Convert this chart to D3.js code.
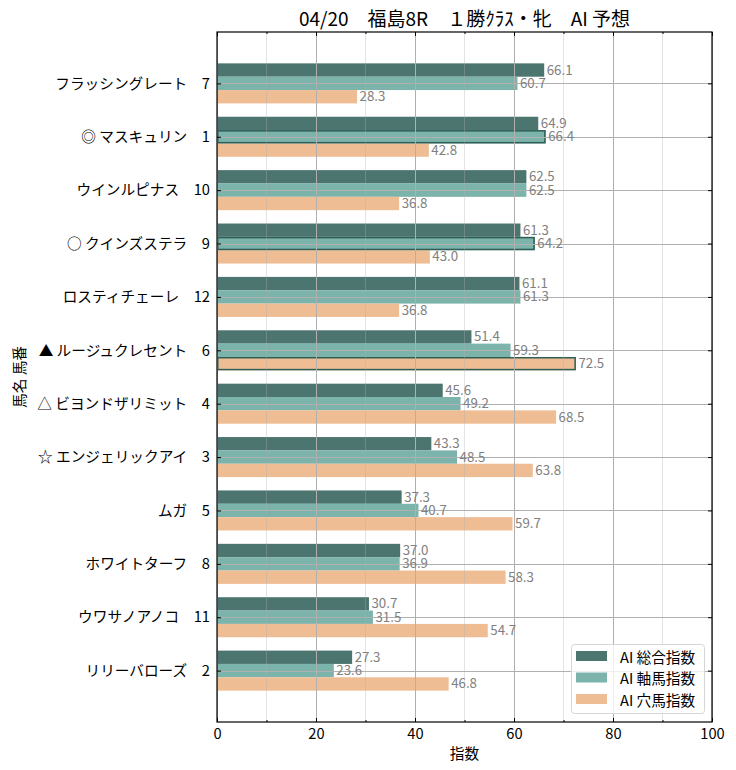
<!DOCTYPE html>
<html><head><meta charset="utf-8">
<script src="https://cdn.jsdelivr.net/npm/d3@7"></script>
<style>
body{margin:0;background:#fff;}
svg{display:block;font-family:"Noto Sans CJK JP","Noto Sans",sans-serif;}
</style></head>
<body>
<svg id="chart" width="736" height="770"></svg>
<script>
const horseNames = ["フラッシングレート","◎ マスキュリン","ウインルピナス","○ クインズステラ","ロスティチェーレ","▲ ルージュクレセント","△ ビヨンドザリミット","☆ エンジェリックアイ","ムガ","ホワイトターフ","ウワサノアノコ","リリーバローズ"];
const horseNumbers = [7,1,10,9,12,6,4,3,5,8,11,2];
const sogo = [66.1,64.9,62.5,61.3,61.1,51.4,45.6,43.3,37.3,37.0,30.7,27.3];
const jiku = [60.7,66.4,62.5,64.2,61.3,59.3,49.2,48.5,40.7,36.9,31.5,23.6];
const ana  = [28.3,42.8,36.8,43.0,36.8,72.5,68.5,63.8,59.7,58.3,54.7,46.8];
const highlighted = [[1,1],[3,1],[5,2]]; // [row, series]
const seriesNames = ["AI 総合指数","AI 軸馬指数","AI 穴馬指数"];
const xTicks = [0,20,40,60,80,100];
const xMinorTicks = [10,30,50,70,90];
const titleText = "04/20　福島8R　１勝ｸﾗｽ・牝　AI 予想";

const colors = ["#4c756f","#7cb3ab","#efbd94"];
const series = [sogo, jiku, ana];
const L=217,R=712,T=32,B=722;
const FS = 14.67;
const svg = d3.select("#chart");
const x = d3.scaleLinear().domain([0,100]).range([L,R]);
const n = horseNames.length;
const y = d3.scaleLinear().domain([-0.9625, n-1+0.9625]).range([T,B]);
const bh = 0.25;

// bars
const gBars = svg.append("g");
series.forEach((vals,k)=>{
  gBars.selectAll(null).data(vals).enter().append("rect")
    .attr("x", x(0))
    .attr("y", (d,i)=> y(i+(k-1)*bh - bh/2))
    .attr("width", d=> x(d)-x(0))
    .attr("height", y(bh)-y(0))
    .attr("fill", colors[k]);
});
// highlighted borders
highlighted.forEach(([i,k])=>{
  const v = series[k][i];
  gBars.append("rect")
    .attr("x", x(0)+0.75).attr("y", y(i+(k-1)*bh - bh/2)+0.75)
    .attr("width", x(v)-x(0)-1.5).attr("height", y(bh)-y(0)-1.5)
    .attr("fill","none").attr("stroke","#2f5e57").attr("stroke-width",1.5);
});

// grid
const gGrid = svg.append("g");
gGrid.selectAll(null).data(xMinorTicks).enter().append("line")
  .attr("x1",d=>x(d)).attr("x2",d=>x(d)).attr("y1",T).attr("y2",B)
  .attr("stroke","#b0b0b0").attr("stroke-opacity",0.35).attr("stroke-width",1);
gGrid.selectAll(null).data(xTicks).enter().append("line")
  .attr("x1",d=>Math.round(x(d))+0.5).attr("x2",d=>Math.round(x(d))+0.5).attr("y1",T).attr("y2",B)
  .attr("stroke","#b0b0b0").attr("stroke-width",1);
gGrid.selectAll(null).data(d3.range(n)).enter().append("line")
  .attr("x1",L).attr("x2",R).attr("y1",d=>Math.round(y(d))+0.5).attr("y2",d=>Math.round(y(d))+0.5)
  .attr("stroke","#b0b0b0").attr("stroke-width",1);

// value labels
const gLab = svg.append("g").attr("font-size",13.3).attr("fill","#808080");
series.forEach((vals,k)=>{
  gLab.selectAll(null).data(vals).enter().append("text")
    .attr("x", d=> x(d)+2.5)
    .attr("y", (d,i)=> y(i+(k-1)*bh)-1)
    .attr("dominant-baseline","central")
    .text(d=> d.toFixed(1));
});

// axes frame
svg.append("rect").attr("x",L).attr("y",T).attr("width",R-L).attr("height",B-T)
  .attr("fill","none").attr("stroke","#000").attr("stroke-width",1.2);

// x axis ticks (inward, all sides)
const axB = svg.append("g").attr("transform",`translate(0,${B})`)
  .call(d3.axisBottom(x).tickValues(xTicks).tickSizeInner(-4).tickSizeOuter(0).tickPadding(7));
axB.select(".domain").remove();
axB.selectAll("text").attr("font-size",FS).attr("fill","#000").attr("font-family",'"Noto Sans CJK JP",sans-serif');
const axBm = svg.append("g").attr("transform",`translate(0,${B})`)
  .call(d3.axisBottom(x).tickValues(xMinorTicks).tickSizeInner(-2).tickSizeOuter(0).tickFormat(""));
axBm.select(".domain").remove();
const axT = svg.append("g").attr("transform",`translate(0,${T})`)
  .call(d3.axisTop(x).tickValues(xTicks).tickSizeInner(-4).tickSizeOuter(0).tickFormat(""));
axT.select(".domain").remove();
const axTm = svg.append("g").attr("transform",`translate(0,${T})`)
  .call(d3.axisTop(x).tickValues(xMinorTicks).tickSizeInner(-2).tickSizeOuter(0).tickFormat(""));
axTm.select(".domain").remove();

// y axis
const axL = svg.append("g").attr("transform",`translate(${L},0)`)
  .call(d3.axisLeft(y).tickValues(d3.range(n)).tickSizeInner(-4).tickSizeOuter(0).tickPadding(7)
    .tickFormat(i=> `${horseNames[i]}　${horseNumbers[i]}`));
axL.select(".domain").remove();
axL.selectAll("text").attr("font-size",FS).attr("fill","#000").attr("font-family",'"Noto Sans CJK JP",sans-serif');
const axR = svg.append("g").attr("transform",`translate(${R},0)`)
  .call(d3.axisRight(y).tickValues(d3.range(n)).tickSizeInner(-4).tickSizeOuter(0).tickFormat(""));
axR.select(".domain").remove();

// labels
svg.append("text").attr("x",(L+R)/2).attr("y",17).attr("text-anchor","middle")
  .attr("dominant-baseline","central").attr("font-size",19).attr("fill","#000").text(titleText);
svg.append("text").attr("x",(L+R)/2).attr("y",752).attr("text-anchor","middle")
  .attr("dominant-baseline","central").attr("font-size",FS).attr("fill","#000").text("指数");
svg.append("text").attr("transform",`translate(18,${(T+B)/2}) rotate(-90)`).attr("text-anchor","middle")
  .attr("dominant-baseline","central").attr("font-size",FS).attr("fill","#000").text("馬名 馬番");

// legend
const lg = svg.append("g");
lg.append("rect").attr("x",571.5).attr("y",644.5).attr("width",133).attr("height",69).attr("rx",3)
  .attr("fill","#fff").attr("fill-opacity",0.8).attr("stroke","#d6d6d6");
seriesNames.forEach((s,k)=>{
  const cy = 656 + k*21.5;
  lg.append("rect").attr("x",576).attr("y",cy-5).attr("width",31).attr("height",10).attr("fill",colors[k]);
  lg.append("text").attr("x",620).attr("y",cy).attr("dominant-baseline","central")
    .attr("font-size",FS).attr("fill","#000").text(s);
});
</script>
</body></html>
